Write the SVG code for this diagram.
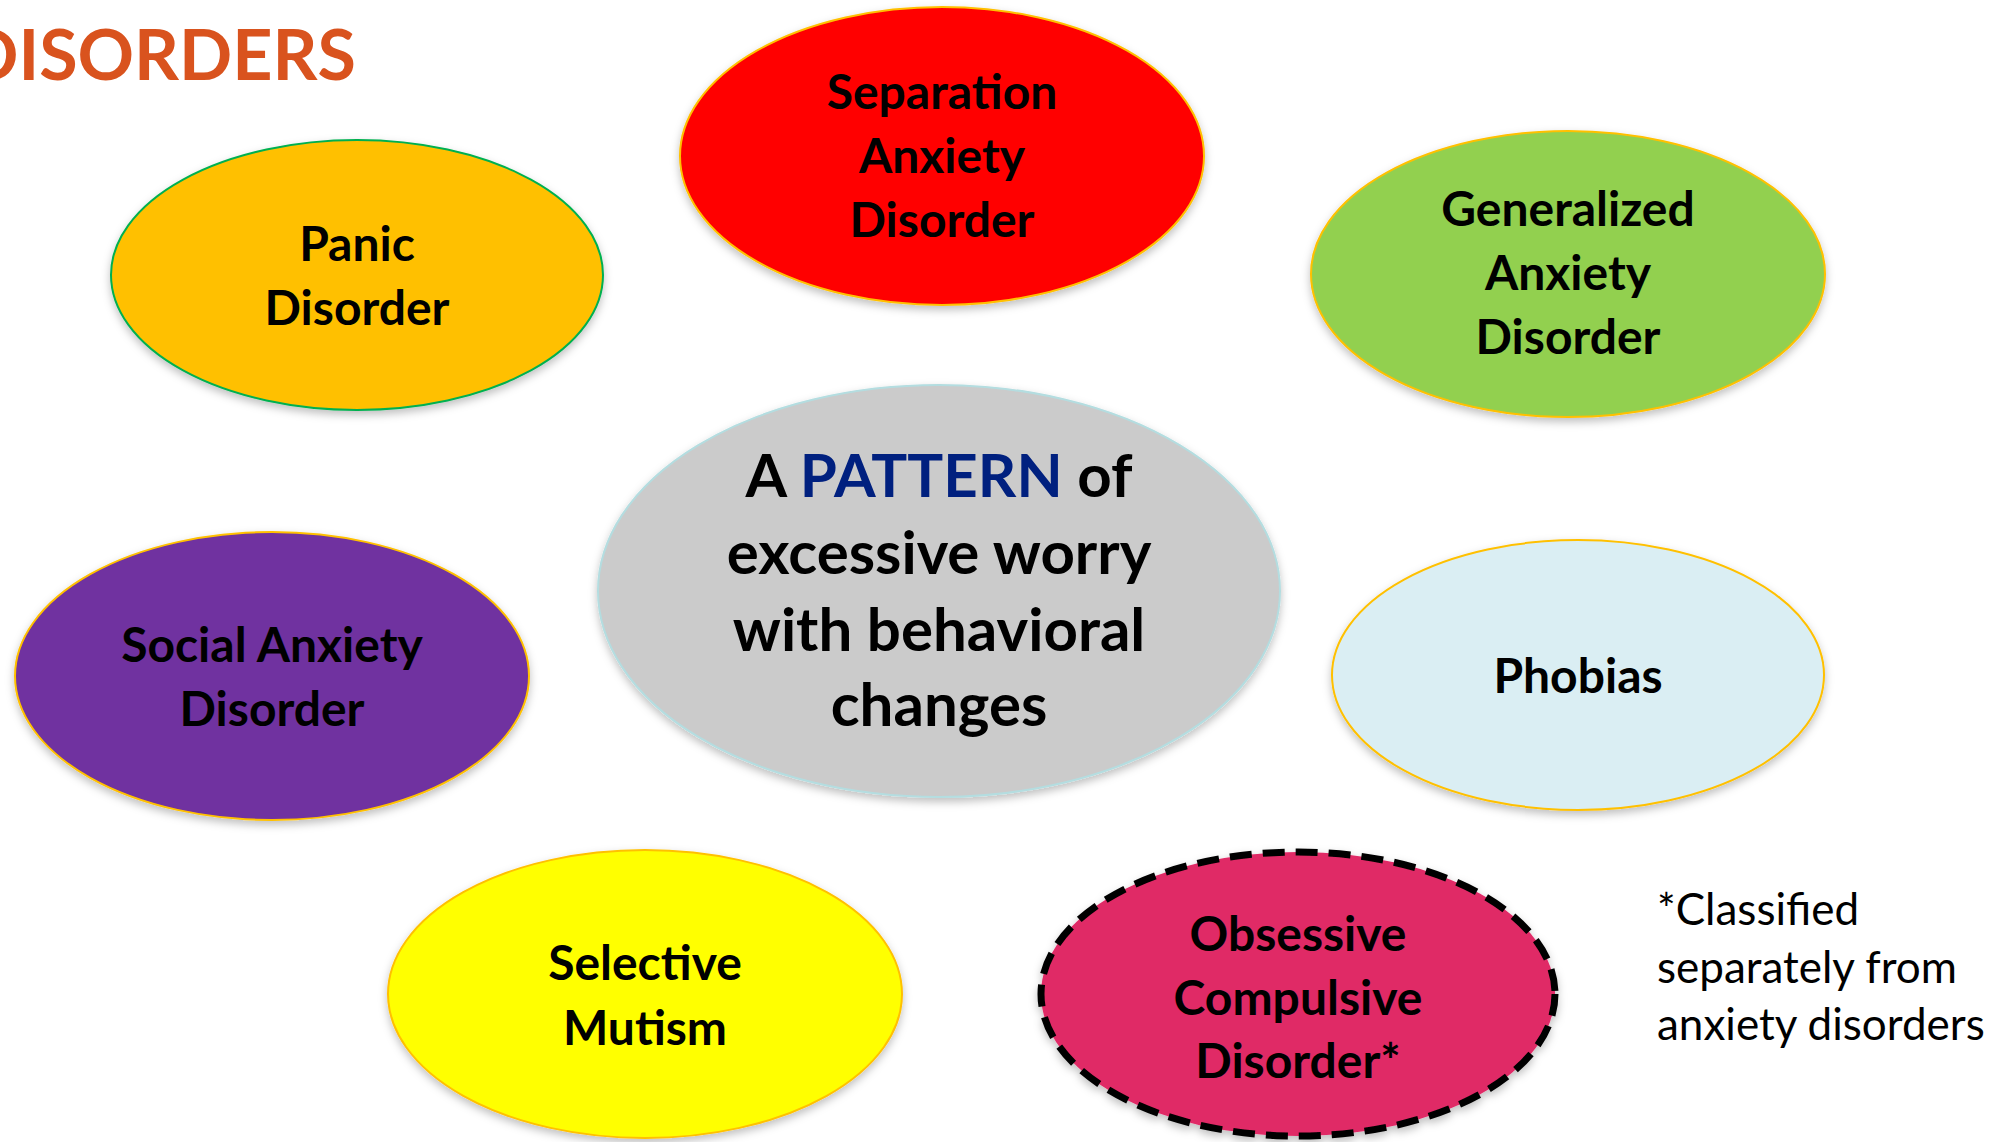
<svg xmlns="http://www.w3.org/2000/svg" width="2012" height="1142" viewBox="0 0 2012 1142">
<defs>
<filter id="sh" x="-10%" y="-10%" width="120%" height="125%">
<feDropShadow dx="0" dy="4" stdDeviation="4" flood-color="#000" flood-opacity="0.25"/>
</filter>
<style>
.node ellipse{stroke-width:2;filter:url(#sh)}
.lbl{font-family:Lato,"Open Sans","Liberation Sans",sans-serif;font-weight:700;font-size:48px;fill:#000;text-anchor:middle}
.big{font-size:60px}
.note{font-family:Lato,"Open Sans","Liberation Sans",sans-serif;font-size:44px;fill:#000}
.title{font-family:Lato,"Open Sans","Liberation Sans",sans-serif;font-weight:700;font-size:70px;fill:#D9531E;text-anchor:end}
</style>
</defs>
<rect width="2012" height="1142" fill="#fff"/>
<text class="title" x="356" y="80">DISORDERS</text>
<g id="connectors"></g>
<g id="panic" class="node">
<ellipse cx="357" cy="275" rx="246" ry="135" fill="#FFC000" stroke="#00B050"/>
<text class="lbl" x="357" y="261">Panic</text>
<text class="lbl" x="357" y="325">Disorder</text>
</g>
<g id="separation" class="node">
<ellipse cx="942" cy="156" rx="262" ry="149" fill="#FF0000" stroke="#FFC000"/>
<text class="lbl" x="942" y="109">Separation</text>
<text class="lbl" x="942" y="173">Anxiety</text>
<text class="lbl" x="942" y="237">Disorder</text>
</g>
<g id="generalized" class="node">
<ellipse cx="1568" cy="274" rx="257" ry="143" fill="#92D050" stroke="#FFC000"/>
<text class="lbl" x="1568" y="226">Generalized</text>
<text class="lbl" x="1568" y="290">Anxiety</text>
<text class="lbl" x="1568" y="354">Disorder</text>
</g>
<g id="center" class="node">
<ellipse cx="939" cy="591" rx="341" ry="206" fill="#CBCBCB" stroke="#B4DDE0"/>
<text class="lbl big" x="939" y="497">A <tspan fill="#00207F">PATTERN</tspan> of</text>
<text class="lbl big" x="939" y="574">excessive worry</text>
<text class="lbl big" x="939" y="651">with behavioral</text>
<text class="lbl big" x="939" y="726">changes</text>
</g>
<g id="social" class="node">
<ellipse cx="272" cy="676" rx="257" ry="144" fill="#7030A0" stroke="#FFC000"/>
<text class="lbl" x="272" y="662">Social Anxiety</text>
<text class="lbl" x="272" y="726">Disorder</text>
</g>
<g id="phobias" class="node">
<ellipse cx="1578" cy="675" rx="246" ry="135" fill="#DAEEF3" stroke="#FFC000"/>
<text class="lbl" x="1578" y="693">Phobias</text>
</g>
<g id="selective" class="node">
<ellipse cx="645" cy="994" rx="257" ry="144" fill="#FFFF00" stroke="#FFC000"/>
<text class="lbl" x="645" y="980">Selective</text>
<text class="lbl" x="645" y="1045">Mutism</text>
</g>
<g id="ocd" class="node">
<ellipse cx="1298" cy="994" rx="257" ry="142" fill="#E02966" stroke="#000" style="stroke-width:7" stroke-dasharray="22 11"/>
<text class="lbl" x="1298" y="951">Obsessive</text>
<text class="lbl" x="1298" y="1015">Compulsive</text>
<text class="lbl" x="1298" y="1078">Disorder*</text>
</g>
<g id="footnote">
<text class="note" x="1657" y="925">*Classified</text>
<text class="note" x="1657" y="983">separately from</text>
<text class="note" x="1657" y="1040">anxiety disorders</text>
</g>
</svg>
